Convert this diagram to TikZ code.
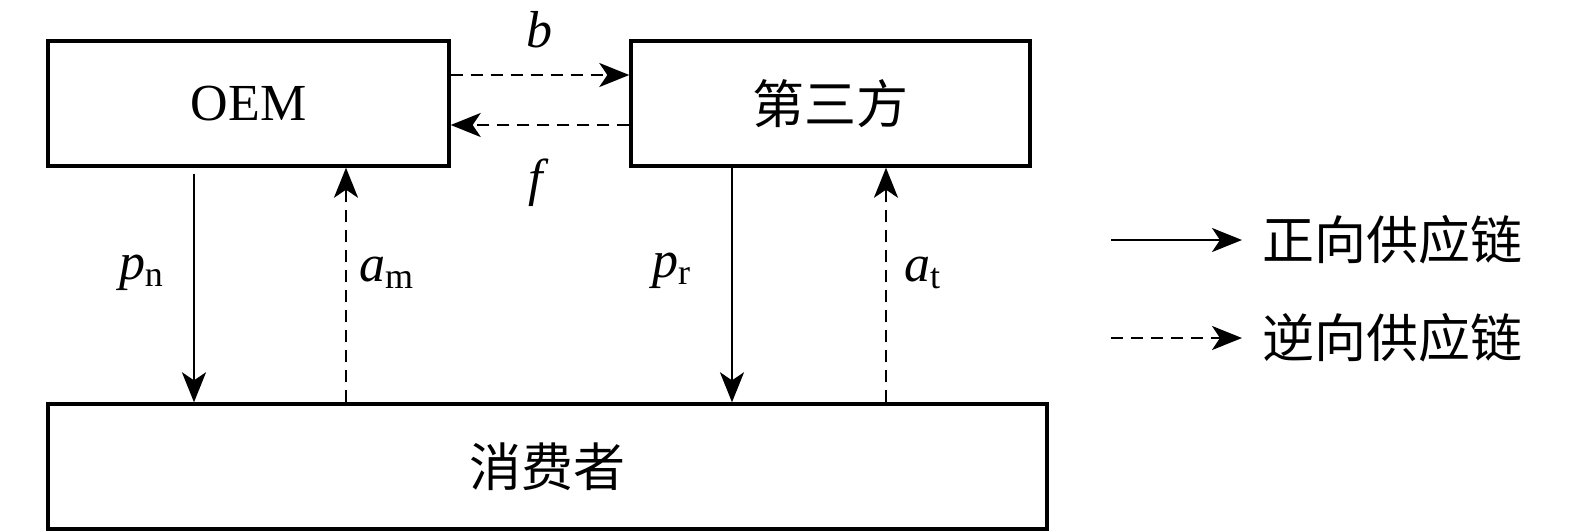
\documentclass[tikz,border=0pt]{standalone}
\usepackage{fontspec}
\setmainfont{Liberation Serif}
\newfontfamily\cjk{Noto Sans CJK SC}
\usetikzlibrary{arrows.meta,calc}
\newcommand\lab[2]{\textit{#1}\raisebox{-3.5pt}{\fontsize{18}{18}\selectfont #2}}
\begin{document}
\begin{tikzpicture}[x=0.5pt,y=-0.5pt,
  every node/.style={font=\fontsize{26}{30}\selectfont},
  box/.style={draw, line width=1.7pt, inner sep=0pt},
  fwd/.style={line width=1.2pt, -{Stealth[length=15pt,width=12pt,inset=4pt]}},
  bwd/.style={fwd, dash pattern=on 6pt off 4pt}]
\useasboundingbox (0,0) rectangle (1575,531);
\node[box, minimum width=200.5pt, minimum height=62.5pt] (oem) at (248.5,103.5) {OEM};
\node[box, minimum width=199.5pt, minimum height=62.5pt] (tp) at (830.5,103.5) {\cjk 第三方};
\node[box, minimum width=499.5pt, minimum height=62.5pt] (cons) at (547.5,466.5) {\cjk 消费者};
\coordinate (by) at (0,75);
\coordinate (fy) at (0,125);
\coordinate (pnx) at (194,0);
\coordinate (amx) at (346,0);
\coordinate (prx) at (732,0);
\coordinate (atx) at (886,0);
\draw[bwd] (oem.east |- by) -- (tp.west |- by);
\draw[bwd] (tp.west |- fy) -- (oem.east |- fy);
\draw[fwd] ([yshift=-3pt]oem.south -| pnx) -- (cons.north -| pnx);
\draw[bwd] (cons.north -| amx) -- (oem.south -| amx);
\draw[fwd] (tp.south -| prx) -- (cons.north -| prx);
\draw[bwd] (cons.north -| atx) -- (tp.south -| atx);
\node (lb) at (539,30) {\textit{b}};
\node (lf) at (539,183) {\textit{f}};
\node (lpn) at (141,273) {\lab{p}{n}};
\node (lam) at (386,273) {\lab{a}{m}};
\node (lpr) at (671,271) {\lab{p}{r}};
\node (lat) at (922,273) {\lab{a}{t}};
\node[anchor=west, inner sep=0pt] (lt1) at (1262,240) {\cjk 正向供应链};
\node[anchor=west, inner sep=0pt] (lt2) at (1262,338) {\cjk 逆向供应链};
\coordinate (ls1) at (1111,240);
\coordinate (ls2) at (1111,338);
\draw[fwd] (ls1) -- ([xshift=-10pt]lt1.west);
\draw[bwd] (ls2) -- ([xshift=-10pt]lt2.west);
\end{tikzpicture}
\end{document}
